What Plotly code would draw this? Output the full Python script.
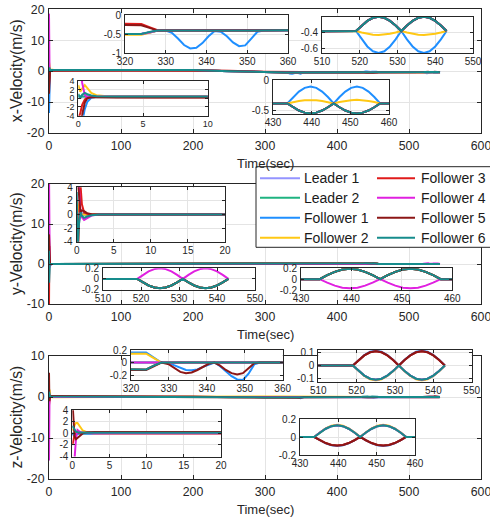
import plotly.graph_objects as go

W, H = 490, 521

NAMES = ["Leader 1", "Leader 2", "Follower 1", "Follower 2",
         "Follower 3", "Follower 4", "Follower 5", "Follower 6"]
COLORS = ["#9494ff", "#1fb380", "#1f8fff", "#ffc814",
          "#e01b1b", "#e020e0", "#8c1616", "#168c8c"]

# ---------------- time segments (sec) ----------------
T_TR = [0, 0.15, 0.3, 0.5, 0.7, 1.0, 1.4, 2.0, 3.0, 6.0, 20]
T_MID = [100, 200, 250, 300, 320, 324, 326, 328]
T_DIP = [330, 331.5, 333, 334.5, 336, 337.5, 339, 340.5, 342, 343.5, 345, 346.5,
         348, 349.5, 351, 352.5, 354]
T_H1 = [433.7, 435.2, 436.7, 438.2, 439.7, 441.2, 442.7, 444.2, 445.7, 447.2,
        448.7, 450.2, 451.7, 453.2, 454.7, 456.2, 457.7]
T_H2 = [519, 520.5, 522, 523.5, 525, 526.5, 528, 529.5, 531, 532.5, 534, 535.5,
        537, 538.5, 540, 541.5, 543]

T_HUMP = T_TR + T_MID + T_H1 + T_H2
T_FULL = T_TR + T_MID + T_DIP + T_H1 + T_H2

# ---------------- x-velocity (m/s) ----------------
XH1_BLUE = [-0.39, -0.283, -0.192, -0.131, -0.11, -0.131, -0.192, -0.283, -0.39,
            -0.283, -0.192, -0.131, -0.11, -0.131, -0.192, -0.283, -0.39]
XH2_BLUE = [-0.38, -0.485, -0.574, -0.634, -0.655, -0.634, -0.574, -0.485, -0.38,
            -0.485, -0.574, -0.634, -0.655, -0.634, -0.574, -0.485, -0.38]
XH1_YEL = [-0.39, -0.367, -0.348, -0.335, -0.33, -0.335, -0.348, -0.367, -0.39,
           -0.367, -0.348, -0.335, -0.33, -0.335, -0.348, -0.367, -0.39]
XH2_YEL = [-0.38, -0.399, -0.415, -0.426, -0.43, -0.426, -0.415, -0.399, -0.38,
           -0.399, -0.415, -0.426, -0.43, -0.426, -0.415, -0.399, -0.38]
XH1_TEAL = [-0.39, -0.453, -0.507, -0.542, -0.555, -0.542, -0.507, -0.453, -0.39,
            -0.453, -0.507, -0.542, -0.555, -0.542, -0.507, -0.453, -0.39]
XH2_TEAL = [-0.38, -0.311, -0.253, -0.214, -0.2, -0.214, -0.253, -0.311, -0.38,
            -0.311, -0.253, -0.214, -0.2, -0.214, -0.253, -0.311, -0.38]
X_DIP_BLUE = [-0.41, -0.47, -0.62, -0.79, -0.88, -0.86, -0.74, -0.56, -0.42, -0.44,
              -0.56, -0.72, -0.82, -0.80, -0.62, -0.44, -0.41]
X_MID_LOW = [0.4, 0.38, 0.0, -0.42, -0.5, -0.5, -0.46, -0.41]

X_L1 = [0.4, 0.4, 0.4, 0.4, 0.4, 0.4, 0.4, 0.4, 0.4, 0.4, 0.4] + X_MID_LOW + XH1_TEAL + XH2_TEAL
X_L2 = [0.4, 0.4, 0.4, 0.4, 0.4, 0.4, 0.4, 0.4, 0.4, 0.4, 0.4] + X_MID_LOW + XH1_TEAL + XH2_TEAL
X_F1 = ([-13.5, -9.0, -5.5, -2.5, -0.8, 0.1, 0.35, 0.4, 0.4, 0.4, 0.4]
        + X_MID_LOW + X_DIP_BLUE + XH1_BLUE + XH2_BLUE)
X_F2 = ([3.0, 1.5, 2.2, 3.0, 2.3, 1.2, 0.7, 0.5, 0.45, 0.42, 0.4]
        + [0.4, 0.38, 0.0, -0.44, -0.52, -0.52, -0.47, -0.41] + XH1_YEL + XH2_YEL)
X_F3 = ([-4.5, -3.5, -1.5, -0.3, 0.2, 0.3, 0.3, 0.25, 0.2, 0.2, 0.2]
        + [0.2, 0.3, 0.1, -0.2, -0.24, -0.24, -0.32, -0.4] + XH1_TEAL + XH2_TEAL)
X_F4 = ([18.6, 9.0, 3.5, 0.8, 0.2, 0.3, 0.4, 0.4, 0.4, 0.4, 0.4]
        + X_MID_LOW + XH1_TEAL + XH2_TEAL)
X_F5 = ([-7.3, -5.0, -3.8, -1.0, 0.0, 0.2, 0.2, 0.15, 0.15, 0.15, 0.15]
        + [0.2, 0.3, 0.05, -0.23, -0.27, -0.27, -0.34, -0.41] + XH1_TEAL + XH2_TEAL)
X_F6 = ([1.0, 0.0, 0.8, 1.2, 0.9, 0.6, 0.45, 0.4, 0.4, 0.4, 0.4]
        + [0.4, 0.38, 0.0, -0.42, -0.5, -0.5, -0.45, -0.41] + XH1_TEAL + XH2_TEAL)

# ---------------- y-velocity (m/s) ----------------
YH1_MAG = [0, -0.065, -0.12, -0.157, -0.17, -0.157, -0.12, -0.065, 0,
           -0.065, -0.12, -0.157, -0.17, -0.157, -0.12, -0.065, 0]
YH2_MAG = [0, 0.077, 0.141, 0.185, 0.2, 0.185, 0.141, 0.077, 0,
           0.077, 0.141, 0.185, 0.2, 0.185, 0.141, 0.077, 0]
YH1_TEAL = [0, 0.073, 0.134, 0.176, 0.19, 0.176, 0.134, 0.073, 0,
            0.073, 0.134, 0.176, 0.19, 0.176, 0.134, 0.073, 0]
YH2_TEAL = [0, -0.067, -0.124, -0.162, -0.175, -0.162, -0.124, -0.067, 0,
            -0.067, -0.124, -0.162, -0.175, -0.162, -0.124, -0.067, 0]
Y_MID = [0, 0, 0, 0, 0, 0, 0, 0]

Y_L1 = [0, 0, 0, 0, 0, 0, 0, 0, 0, 0, 0] + Y_MID + YH1_TEAL + YH2_TEAL
Y_L2 = [0, 0, 0, 0, 0, 0, 0, 0, 0, 0, 0] + Y_MID + YH1_TEAL + YH2_TEAL
Y_F1 = [-3.0, -2.0, -0.5, 0.3, 0.2, 0.1, 0.0, 0, 0, 0, 0] + Y_MID + YH1_TEAL + YH2_TEAL
Y_F2 = [2.0, 1.5, 0.5, 0.2, 0.05, 0, 0, 0, 0, 0, 0] + Y_MID + YH1_TEAL + YH2_TEAL
Y_F3 = [-11.0, -7.0, -2.0, 4.5, 1.5, 0.3, 0.1, 0, 0, 0, 0] + Y_MID + YH1_TEAL + YH2_TEAL
Y_F4 = [23.0, 12.0, 4.0, 0.5, -0.4, -0.8, -0.5, -0.15, 0, 0, 0] + Y_MID + YH1_MAG + YH2_MAG
Y_F5 = [7.4, 5.0, 2.0, 0.3, 0.6, 0.5, 0.2, 0.05, 0, 0, 0] + Y_MID + YH1_TEAL + YH2_TEAL
Y_F6 = [3.3, -4.7, -1.5, 0.3, -0.2, -0.5, -0.3, -0.1, 0, 0, 0] + Y_MID + YH1_TEAL + YH2_TEAL

# ---------------- z-velocity (m/s) ----------------
ZH1_BLUE = [0, -0.038, -0.071, -0.092, -0.1, -0.092, -0.071, -0.038, 0,
            -0.038, -0.071, -0.092, -0.1, -0.092, -0.071, -0.038, 0]
ZH2_BLUE = [0, 0.044, 0.081, 0.106, 0.115, 0.106, 0.081, 0.044, 0,
            0.044, 0.081, 0.106, 0.115, 0.106, 0.081, 0.044, 0]
ZH1_YEL = [0, 0.052, 0.095, 0.125, 0.135, 0.125, 0.095, 0.052, 0,
           0.052, 0.095, 0.125, 0.135, 0.125, 0.095, 0.052, 0]
ZH2_YEL = [0, -0.044, -0.081, -0.106, -0.115, -0.106, -0.081, -0.044, 0,
           -0.044, -0.081, -0.106, -0.115, -0.106, -0.081, -0.044, 0]
ZH1_DRED = [0, -0.036, -0.067, -0.088, -0.095, -0.088, -0.067, -0.036, 0,
            -0.036, -0.067, -0.088, -0.095, -0.088, -0.067, -0.036, 0]
ZH2_DRED = [0, 0.042, 0.078, 0.102, 0.11, 0.102, 0.078, 0.042, 0,
            0.042, 0.078, 0.102, 0.11, 0.102, 0.078, 0.042, 0]
ZH1_TEAL = [0, 0.05, 0.092, 0.12, 0.13, 0.12, 0.092, 0.05, 0,
            0.05, 0.092, 0.12, 0.13, 0.12, 0.092, 0.05, 0]
ZH2_TEAL = [0, -0.042, -0.078, -0.102, -0.11, -0.102, -0.078, -0.042, 0,
            -0.042, -0.078, -0.102, -0.11, -0.102, -0.078, -0.042, 0]
Z_MID = [0, 0, 0, 0, 0, 0, 0, 0]

Z_L1 = [0, 0, 0, 0, 0, 0, 0, 0, 0, 0, 0] + Z_MID + ZH1_TEAL + ZH2_TEAL
Z_L2 = [0, 0, 0, 0, 0, 0, 0, 0, 0, 0, 0] + Z_MID + ZH1_TEAL + ZH2_TEAL
Z_F1 = ([0, -0.3, -0.5, -0.3, -0.1, 0, 0, 0, 0, 0, 0]
        + [0, 0, 0.08, 0.15, 0.16, 0.16, 0.08, 0.0]
        + [-0.01, -0.05, -0.09, -0.12, -0.125, -0.11, -0.07, -0.03, 0, -0.06,
           -0.14, -0.22, -0.27, -0.28, -0.18, -0.03, 0]
        + ZH1_BLUE + ZH2_BLUE)
Z_F2 = ([0.5, 0.8, 1.4, 1.8, 1.8, 1.3, 0.5, 0.15, 0.0, -0.05, -0.05]
        + [-0.05, 0, 0.07, 0.13, 0.14, 0.14, 0.07, 0.0] + ZH1_YEL + ZH2_YEL)
Z_F3 = ([-2.0, -1.2, -0.4, 0.0, 0.1, 0.1, 0.1, 0.1, 0.1, 0.1, 0.1]
        + [0.1, 0.05, -0.05, -0.1, -0.11, -0.11, -0.05, 0] + ZH1_DRED + ZH2_DRED)
Z_F4 = ([-15.5, -9.0, -4.5, -0.8, 0.6, 0.3, 0.1, 0.05, 0, 0, 0]
        + Z_MID + ZH1_TEAL + ZH2_TEAL)
Z_F5 = ([5.9, 3.0, -0.5, -1.0, -0.8, -0.5, 0.0, 0.2, 0.25, 0.25, 0.25]
        + [0.2, 0.1, -0.05, -0.11, -0.12, -0.12, -0.06, 0.0]
        + [-0.03, -0.09, -0.15, -0.17, -0.16, -0.12, -0.07, -0.02, 0, -0.05,
           -0.12, -0.17, -0.19, -0.17, -0.09, -0.01, 0]
        + ZH1_DRED + ZH2_DRED)
Z_F6 = ([1.3, 1.0, 0.5, 0.3, 0.2, 0.15, 0.1, 0.1, 0.1, 0.1, 0.1]
        + [0.1, 0.05, -0.05, -0.10, -0.11, -0.11, -0.05, 0.0] + ZH1_TEAL + ZH2_TEAL)

COMPONENTS = [
    ([T_HUMP, T_HUMP, T_FULL, T_HUMP, T_HUMP, T_HUMP, T_HUMP, T_HUMP],
     [X_L1, X_L2, X_F1, X_F2, X_F3, X_F4, X_F5, X_F6]),
    ([T_HUMP, T_HUMP, T_HUMP, T_HUMP, T_HUMP, T_HUMP, T_HUMP, T_HUMP],
     [Y_L1, Y_L2, Y_F1, Y_F2, Y_F3, Y_F4, Y_F5, Y_F6]),
    ([T_HUMP, T_HUMP, T_FULL, T_HUMP, T_HUMP, T_HUMP, T_FULL, T_HUMP],
     [Z_L1, Z_L2, Z_F1, Z_F2, Z_F3, Z_F4, Z_F5, Z_F6]),
]
Y_TITLES = ["x-Velocity(m/s)", "y-Velocity(m/s)", "z-Velocity(m/s)"]
X_TITLE = "Time(sec)"
MAIN_XTICKS = [0, 100, 200, 300, 400, 500, 600]

# layout of main panels: (x px, y px, y range, y ticks)
MAIN = [
    ((49, 481), (9.3, 133), [-20, 20], [-20, -10, 0, 10, 20]),
    ((49, 481), (184, 304), [-10, 20], [-10, 0, 10, 20]),
    ((49, 481), (356, 479), [-20, 10], [-20, -10, 0, 10]),
]
# insets: (component, x px, y px, x range, y range, x ticks, y ticks, font size)
INSETS = [
    (0, (125, 288), (15, 53), [320, 360], [-1, 0], [320, 330, 340, 350, 360], [-1, -0.5, 0], 10),
    (0, (322, 473), (16.7, 53.3), [510, 550], [-0.66, -0.2], [510, 520, 530, 540, 550], [-0.6, -0.4], 10),
    (0, (273, 389), (80, 114.3), [430, 460], [-0.57, 0], [430, 440, 450, 460], [-0.5, 0], 10),
    (0, (78.3, 207.7), (80.7, 115.7), [0, 10], [-4, 4], [0, 5, 10], [-4, -2, 0, 2, 4], 9),
    (1, (76.7, 225), (187.3, 241.7), [0, 20], [-4, 4], [0, 5, 10, 15, 20], [-4, -2, 0, 2, 4], 10),
    (1, (103, 255), (268.3, 289.5), [510, 550], [-0.2, 0.2], [510, 520, 530, 540, 550], [-0.2, 0, 0.2], 10),
    (1, (301, 452.3), (268.3, 290), [430, 460], [-0.2, 0.2], [430, 440, 450, 460], [-0.2, 0, 0.2], 10),
    (2, (131, 282.7), (350, 380), [320, 360], [-0.28, 0.2], [320, 330, 340, 350, 360], [-0.2, 0, 0.2], 10),
    (2, (318.3, 471.7), (350, 381.7), [510, 550], [-0.125, 0.12], [510, 520, 530, 540, 550], [-0.1, 0, 0.1], 10),
    (2, (300, 415), (419, 455), [430, 460], [-0.2, 0.2], [430, 440, 450, 460], [-0.2, 0, 0.2], 10),
    (2, (72.3, 221), (410.3, 456.5), [0, 20], [-4, 4], [0, 5, 10, 15, 20], [-4, -2, 0, 2, 4], 10),
]

AX = "#262626"
GRID = "#e4e4e4"


def xdom(a, b):
    return [a / W, b / W]


def ydom(top, bot):
    return [1 - bot / H, 1 - top / H]


def lab(v):
    return "%g" % v


fig = go.Figure()
layout = dict(width=W, height=H, autosize=False,
              margin=dict(l=0, r=0, t=0, b=0, pad=0, autoexpand=False),
              paper_bgcolor="white", plot_bgcolor="white",
              showlegend=False,
              font=dict(family="Liberation Sans, Arial, sans-serif", color=AX))
shapes = []
annotations = []


def axis_style(size, tlen, standoff):
    return dict(showline=True, linecolor=AX, linewidth=1, mirror="allticks",
                ticks="inside", ticklen=tlen, tickcolor=AX, tickwidth=1,
                showgrid=True, gridcolor=GRID, gridwidth=1, zeroline=False,
                tickfont=dict(size=size, color=AX), fixedrange=True,
                automargin=False, ticklabelstandoff=standoff,
                ticklabeloverflow="allow")


def add_axes(n, xpx, ypx, xr, yr, xt, yt, size, tlen, sx, sy):
    xs = "xaxis" if n == 1 else "xaxis%d" % n
    ys = "yaxis" if n == 1 else "yaxis%d" % n
    xa = axis_style(size, tlen, sx)
    xa.update(domain=xdom(*xpx), range=xr, anchor="y" if n == 1 else "y%d" % n,
              tickmode="array", tickvals=xt, ticktext=[lab(v) for v in xt])
    ya = axis_style(size, tlen, sy)
    ya.update(domain=ydom(*ypx), range=yr, anchor="x" if n == 1 else "x%d" % n,
              tickmode="array", tickvals=yt, ticktext=[lab(v) for v in yt])
    layout[xs] = xa
    layout[ys] = ya


def add_traces(n, comp, lw):
    times, series = COMPONENTS[comp]
    xr = "x" if n == 1 else "x%d" % n
    yr = "y" if n == 1 else "y%d" % n
    for i in range(8):
        fig.add_trace(go.Scatter(x=times[i], y=series[i], mode="lines",
                                 line=dict(color=COLORS[i], width=lw),
                                 xaxis=xr, yaxis=yr, name=NAMES[i],
                                 hoverinfo="skip"))


n = 0
for c, (xpx, ypx, yr, yt) in enumerate(MAIN):
    n += 1
    add_axes(n, xpx, ypx, [0, 600], yr, MAIN_XTICKS, yt, 12.3, 4, 1, 1)
    add_traces(n, c, 2)
    annotations.append(dict(x=16 / W, y=1 - (ypx[0] + ypx[1]) / 2 / H,
                            xref="paper", yref="paper", text=Y_TITLES[c],
                            textangle=-90, showarrow=False,
                            font=dict(size=15.7, color=AX),
                            xanchor="center", yanchor="middle"))
    annotations.append(dict(x=(xpx[0] + xpx[1]) / 2 / W, y=1 - (ypx[1] + 30) / H,
                            xref="paper", yref="paper", text=X_TITLE,
                            showarrow=False, font=dict(size=13, color=AX),
                            xanchor="center", yanchor="middle"))

for (c, xpx, ypx, xr, yr, xt, yt, fs) in INSETS:
    n += 1
    add_axes(n, xpx, ypx, xr, yr, xt, yt, fs, 3, -1, 1)
    shapes.append(dict(type="rect", xref="x%d" % n, yref="y%d" % n,
                       x0=xr[0], x1=xr[1], y0=yr[0], y1=yr[1],
                       fillcolor="white", line=dict(width=0), layer="below"))
    add_traces(n, c, 2)

# ---------------- legend (drawn as a MATLAB-style box) ----------------
LEG_BOX = (256, 166.7, 500, 247.3)
LEG_ROWS = [178.3, 197.7, 217.7, 237.7]
LEG_COLS = [(260, 300, 302), (377, 415, 419)]
shapes.append(dict(type="rect", xref="paper", yref="paper",
                   x0=LEG_BOX[0] / W, x1=LEG_BOX[2] / W,
                   y0=1 - LEG_BOX[3] / H, y1=1 - LEG_BOX[1] / H,
                   fillcolor="white", line=dict(color=AX, width=1), layer="above"))
for i, name in enumerate(NAMES):
    col = LEG_COLS[i // 4]
    yy = 1 - LEG_ROWS[i % 4] / H
    shapes.append(dict(type="line", xref="paper", yref="paper",
                       x0=col[0] / W, x1=col[1] / W, y0=yy, y1=yy,
                       line=dict(color=COLORS[i], width=2), layer="above"))
    annotations.append(dict(x=col[2] / W, y=yy, xref="paper", yref="paper",
                            text=name, showarrow=False, xanchor="left",
                            yanchor="middle", font=dict(size=14, color="#1a1a1a")))

layout["shapes"] = shapes
layout["annotations"] = annotations
fig.update_layout(**layout)
# remove the browser's default page margin so the 490x521 figure fills the window
fig.write_html("out.html",
               config={"displayModeBar": False},
               post_script="document.body.style.margin='0';"
                           "document.body.style.overflow='hidden';")
